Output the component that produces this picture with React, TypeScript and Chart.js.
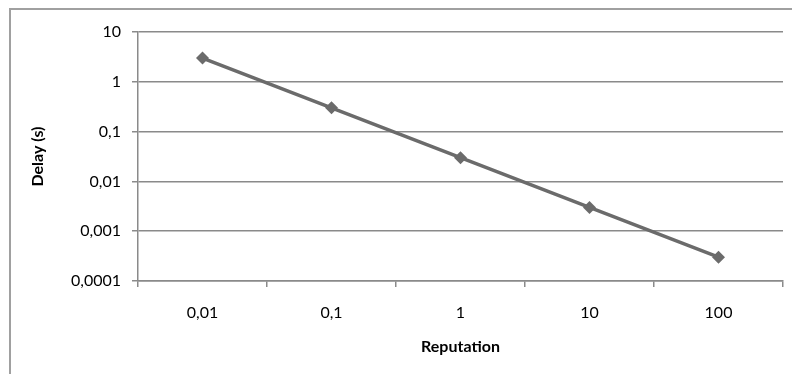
import React, { useEffect, useRef } from "react";
import { Chart, registerables } from "chart.js";

Chart.register(...registerables);

const categories = ["0,01", "0,1", "1", "10", "100"];
const delayValues = [3, 0.3, 0.03, 0.003, 0.0003];
const yTickValues = [0.0001, 0.001, 0.01, 0.1, 1, 10];
const yTickLabels = ["0,0001", "0,001", "0,01", "0,1", "1", "10"];

const FONT = "Lato, 'Liberation Sans', sans-serif";
const GRID = "#8a8a8a";

export default function App() {
  const ref = useRef<HTMLCanvasElement | null>(null);

  useEffect(() => {
    if (!ref.current) return;
    const chart = new Chart(ref.current, {
      type: "line",
      data: {
        labels: categories,
        datasets: [
          {
            label: "Delay",
            data: delayValues,
            borderColor: "#6b6b6b",
            backgroundColor: "#6b6b6b",
            borderWidth: 3.5,
            pointStyle: "rectRot",
            pointRadius: 6.5,
            pointBorderWidth: 0,
            pointBackgroundColor: "#6b6b6b",
            tension: 0,
          },
        ],
      },
      options: {
        animation: false,
        responsive: false,
        maintainAspectRatio: false,
        layout: { padding: { left: 0, top: 32, right: 9, bottom: 0 } },
        plugins: { legend: { display: false }, tooltip: { enabled: false } },
        scales: {
          x: {
            type: "category",
            offset: true,
            grid: {
              offset: true,
              drawOnChartArea: false,
              drawTicks: true,
              tickLength: 6,
              color: GRID,
              lineWidth: 1.5,
            },
            border: { display: true, color: GRID, width: 1.5 },
            ticks: { color: "#000", font: { family: FONT, size: 16 }, padding: 16, maxRotation: 0 },
            title: {
              display: true,
              text: "Reputation",
              color: "#000",
              font: { family: FONT, size: 16, weight: "bold" },
              padding: { top: 0, bottom: 18 },
            },
            afterFit: (s: any) => {
              s.height = 93;
            },
          },
          y: {
            type: "logarithmic",
            min: 0.0001,
            max: 10,
            grid: {
              drawTicks: true,
              tickLength: 6,
              color: GRID,
              lineWidth: 1.5,
            },
            border: { display: true, color: GRID, width: 1.5 },
            ticks: {
              color: "#000",
              font: { family: FONT, size: 16 },
              padding: 11,
              callback: (v: any) => {
                const i = yTickValues.findIndex((t) => Math.abs(Math.log10(t) - Math.log10(Number(v))) < 1e-6);
                return i >= 0 ? yTickLabels[i] : "";
              },
            },
            afterBuildTicks: (s: any) => {
              s.ticks = yTickValues.map((v) => ({ value: v }));
            },
            title: {
              display: true,
              text: "Delay (s)",
              color: "#000",
              font: { family: FONT, size: 16, weight: "bold" },
              padding: { top: 28, bottom: 0 },
            },
            afterFit: (s: any) => {
              s.width = 138;
            },
          },
        },
      },
    });
    return () => chart.destroy();
  }, []);

  return (
    <div style={{ position: "fixed", left: 0, top: 0, width: 792, height: 374, background: "#fff", overflow: "hidden" }}>
      <div
        style={{
          position: "absolute",
          left: 9,
          top: 8,
          width: 820,
          height: 420,
          border: "2px solid #a0a0a0",
          boxSizing: "border-box",
        }}
      />
      <canvas ref={ref} width={792} height={374} style={{ position: "absolute", left: 0, top: 0, width: 792, height: 374 }} />
    </div>
  );
}
